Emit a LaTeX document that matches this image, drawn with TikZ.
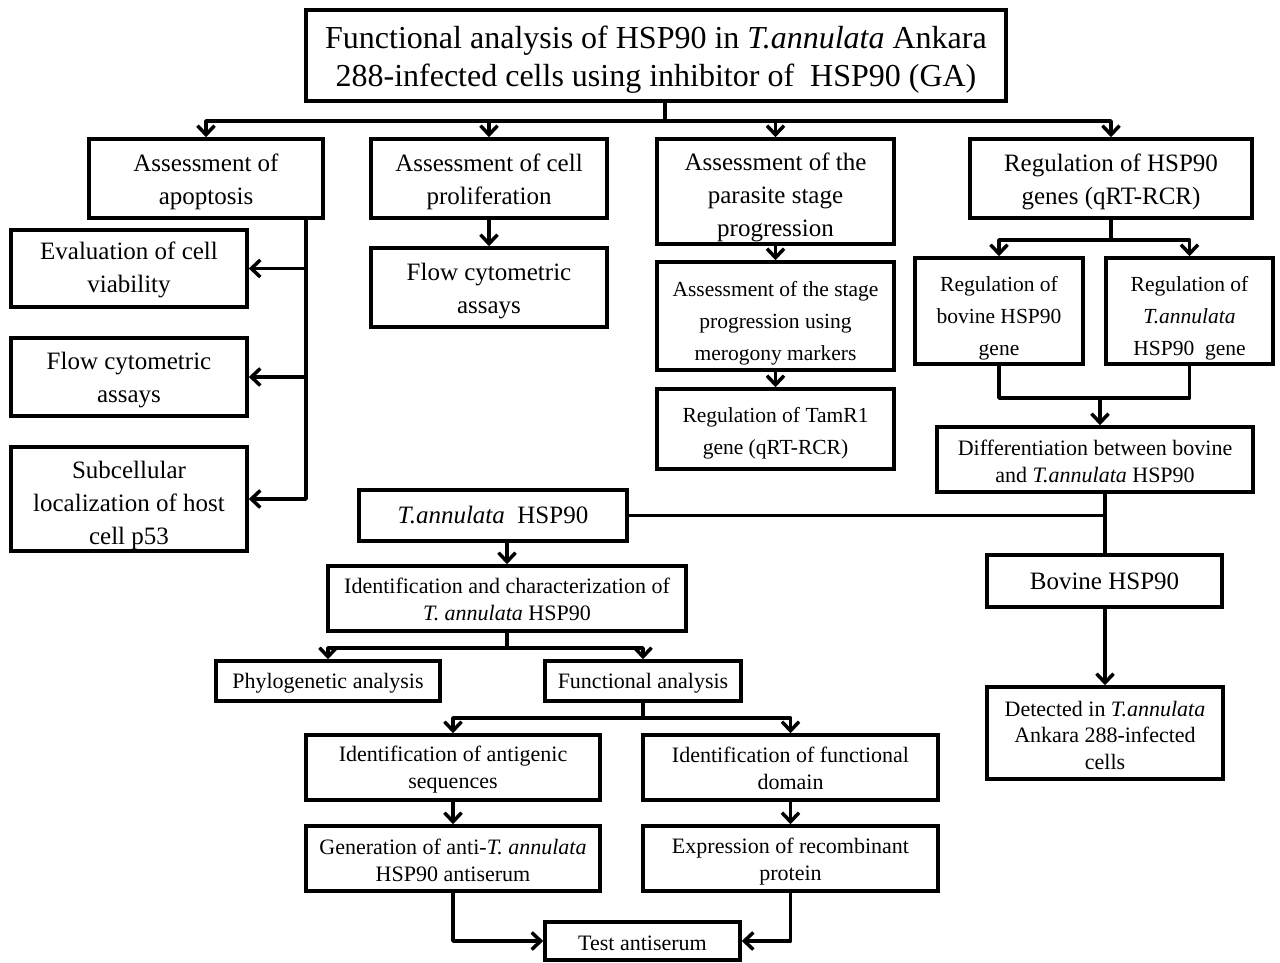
\documentclass[tikz,border=0pt]{standalone}
\usepackage{fontspec}
\setmainfont{Liberation Serif}
\usetikzlibrary{arrows.meta}
\tikzset{
  bx/.style={draw, line width=3.5pt, inner sep=0pt},
  tx/.style={align=center, inner sep=0pt},
  big/.style={tx, font=\fontsize{25}{33}\selectfont},
  med/.style={tx, font=\fontsize{21.5}{32}\selectfont},
  sml/.style={tx, font=\fontsize{22}{26.5}\selectfont},
  ttl/.style={tx, font=\fontsize{32}{38}\selectfont},
  ln/.style={line width=3.5pt, line join=round},
  arr/.style={ln, -{Straight Barb[length=9pt,width=17pt]}}
}
% #1 name, #2 text style, #3 x, #4 y, #5 width, #6 height, #7 text shift, #8 text
\newcommand\boxnode[8]{%
  \node[bx,minimum width=#5,minimum height=#6] (#1) at (#3,#4) {};
  \node[#2,yshift=#7] (#1t) at (#1) {#8};}
\begin{document}
\begin{tikzpicture}[x=1pt,y=1pt]
\useasboundingbox (0,0) rectangle (1280,-963);
% nodes
\boxnode{title}{ttl}{656}{-55.5}{700}{91}{-4}{Functional analysis of HSP90 in \textit{T.annulata} Ankara\\288-infected cells using inhibitor of \ HSP90 (GA)}
\boxnode{A}{big}{206}{-178.5}{234}{79}{-3}{Assessment of\\apoptosis}
\boxnode{B}{big}{489}{-178.5}{236}{79}{-3}{Assessment of cell\\proliferation}
\boxnode{C}{big}{775.5}{-191.5}{237}{105}{-6}{Assessment of the\\parasite stage\\progression}
\boxnode{D}{big}{1111}{-178.5}{282}{79}{-3}{Regulation of HSP90\\genes (qRT-RCR)}
\boxnode{E}{big}{129}{-268.5}{236}{77}{-1}{Evaluation of cell\\viability}
\boxnode{F}{big}{129}{-377}{236}{78}{-3}{Flow cytometric\\assays}
\boxnode{G}{big}{129}{-499}{236}{104}{-6}{Subcellular\\localization of host\\cell p53}
\boxnode{H}{big}{489}{-287.5}{236}{79}{-4}{Flow cytometric\\assays}
\boxnode{I}{med}{775.5}{-316}{237}{108}{-7}{Assessment of the stage\\progression using\\merogony markers}
\boxnode{J}{med}{775.5}{-429}{237}{80}{-4}{Regulation of TamR1\\gene (qRT-RCR)}
\boxnode{K}{med}{999}{-311}{168}{106}{-7}{Regulation of\\bovine HSP90\\gene}
\boxnode{L}{med}{1189.5}{-311}{167}{106}{-7}{Regulation of\\\textit{T.annulata}\\HSP90 \ gene}
\boxnode{M}{sml}{1095}{-459.5}{316}{65}{-2}{Differentiation between bovine\\and \textit{T.annulata} HSP90}
\boxnode{N}{big}{493}{-515.5}{268}{51}{0}{\textit{T.annulata} \ HSP90}
\boxnode{O}{big}{1104.5}{-581}{235}{52}{0}{Bovine HSP90}
\boxnode{P}{sml}{1105}{-733}{236}{92}{-2}{Detected in \textit{T.annulata}\\Ankara 288-infected\\cells}
\boxnode{Q}{sml}{507}{-598.5}{358}{65}{-1}{Identification and characterization of\\\textit{T. annulata} HSP90}
\boxnode{R}{sml}{328}{-681}{224}{40}{-2}{Phylogenetic analysis}
\boxnode{S}{sml}{643}{-681}{196}{40}{-2}{Functional analysis}
\boxnode{T}{sml}{453}{-767.5}{294}{65}{-2}{Identification of antigenic\\sequences}
\boxnode{U}{sml}{790.5}{-767.5}{295}{65}{-1}{Identification of functional\\domain}
\boxnode{V}{sml}{453}{-858.5}{294}{65}{-2}{Generation of anti-\textit{T. annulata}\\HSP90 antiserum}
\boxnode{W}{sml}{790.5}{-858.5}{295}{65}{-3}{Expression of recombinant\\protein}
\boxnode{X}{sml}{642.5}{-941}{195}{38}{-2}{Test antiserum}
% connectors
\coordinate (t1) at (665,-121);
\draw[ln] (title.south -| t1) -- (t1);
\draw[arr] (t1) -| (A.north);
\draw[arr] (t1) -| (B.north);
\draw[arr] (t1) -| (C.north);
\draw[arr] (t1) -| (D.north);
\coordinate (av) at (306,0);
\draw[arr] (A.south -| av) |- (E.east);
\draw[arr] (A.south -| av) |- (F.east);
\draw[arr] (A.south -| av) |- (G.east);
\draw[arr] (B.south) -- (H.north);
\draw[arr] (C.south) -- (I.north);
\draw[arr] (I.south) -- (J.north);
\coordinate (d1) at (1111,-240);
\draw[ln] (D.south) -- (d1);
\draw[arr] (d1) -| (K.north);
\draw[arr] (d1) -| (L.north);
\coordinate (km) at (1100,-398);
\draw[ln] (K.south) |- (km) -| (L.south);
\draw[arr] (km) -- (M.north -| km);
\coordinate (mx) at (1105,0);
\draw[ln] (M.south -| mx) -- (O.north -| mx);
\draw[ln] (N.east) -- (N.east -| mx);
\draw[arr] (O.south -| mx) -- (P.north -| mx);
\draw[arr] (N.south -| Q.north) -- (Q.north);
\coordinate (q1) at (507,-648);
\draw[ln] (Q.south) -- (q1);
\draw[arr] (q1) -| (R.north);
\draw[arr] (q1) -| (S.north);
\coordinate (s1) at (643,-718);
\draw[ln] (S.south) -- (s1);
\draw[arr] (s1) -| (T.north);
\draw[arr] (s1) -| (U.north);
\draw[arr] (T.south) -- (V.north);
\draw[arr] (U.south) -- (W.north);
\draw[arr] (V.south) |- (X.west);
\draw[arr] (W.south) |- (X.east);
\end{tikzpicture}
\end{document}
